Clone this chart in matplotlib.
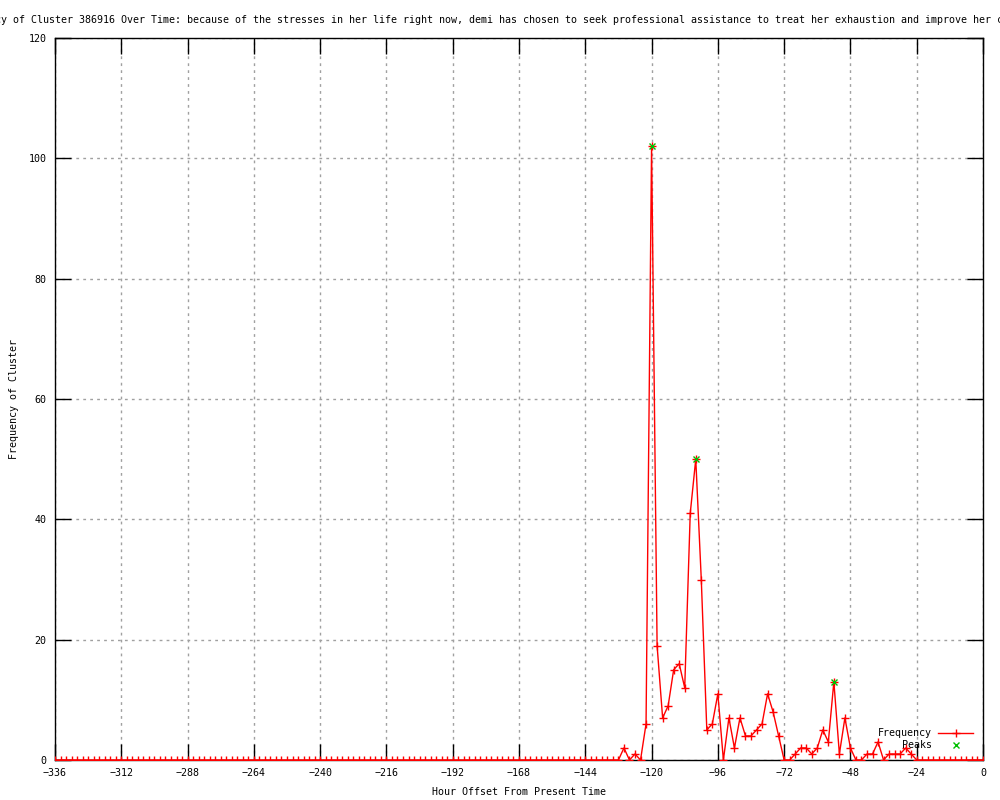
import matplotlib
matplotlib.use("Agg")
import matplotlib.pyplot as plt
import numpy as np

# ---- data ----
hours = list(range(-336, 1, 2))
frequency = [
    0, 0, 0, 0, 0, 0, 0, 0, 0, 0, 0, 0, 0, 0, 0, 0, 0, 0, 0, 0,
    0, 0, 0, 0, 0, 0, 0, 0, 0, 0, 0, 0, 0, 0, 0, 0, 0, 0, 0, 0,
    0, 0, 0, 0, 0, 0, 0, 0, 0, 0, 0, 0, 0, 0, 0, 0, 0, 0, 0, 0,
    0, 0, 0, 0, 0, 0, 0, 0, 0, 0, 0, 0, 0, 0, 0, 0, 0, 0, 0, 0,
    0, 0, 0, 0, 0, 0, 0, 0, 0, 0, 0, 0, 0, 0, 0, 0, 0, 0, 0, 0,
    0, 0, 0,
    # -130 ... -24
    2, 0, 1, 0, 6, 102, 19, 7, 9, 15, 16, 12, 41, 50, 30, 5, 6, 11, 0, 7,
    2, 7, 4, 4, 5, 6, 11, 8, 4, 0, 0, 1, 2, 2, 1, 2, 5, 3, 13, 1,
    7, 2, 0, 0, 1, 1, 3, 0, 1, 1, 1, 2, 1, 0,
    # -22 ... 0
    0, 0, 0, 0, 0, 0, 0, 0, 0, 0, 0, 0,
]
peak_hours = [-120, -104, -54]
peak_values = [102, 50, 13]

x_ticks = list(range(-336, 1, 24))
y_ticks = [0, 20, 40, 60, 80, 100, 120]

title = ("Frequency of Cluster 386916 Over Time: because of the stresses in her life "
         "right now, demi has chosen to seek professional assistance to treat her "
         "exhaustion and improve her condition")

mono = "DejaVu Sans Mono"
fs = 7.2

fig = plt.figure(figsize=(10, 8), dpi=100)
ax = fig.add_axes([0.055, 0.05, 0.928, 0.9025])

ax.plot(hours, frequency, color="#ff0000", lw=1.0, marker="+", ms=6,
        mew=1.0, label="Frequency", zorder=3)
ax.plot(peak_hours, peak_values, linestyle="none", color="#00c000",
        marker="x", ms=5, mew=1.0, label="Peaks", zorder=4)

ax.set_xlim(-336, 0)
ax.set_ylim(0, 120)
ax.set_xticks(x_ticks)
ax.set_yticks(y_ticks)
ax.set_xticklabels([str(v).replace("-", "\u2212") for v in x_ticks])
ax.set_yticklabels([str(v) for v in y_ticks])

ax.tick_params(direction="in", length=11.5, width=1, top=True, right=True,
               labelsize=fs, pad=6)
for lab in ax.get_xticklabels() + ax.get_yticklabels():
    lab.set_family(mono)

ax.grid(True, color="#a0a0a0", linestyle=(0, (2, 3)), linewidth=1.0)
for s in ax.spines.values():
    s.set_linewidth(1.0)
    s.set_color("black")

ax.set_xlabel("Hour Offset From Present Time", family=mono, fontsize=fs, labelpad=6)
ax.set_ylabel("Frequency of Cluster", family=mono, fontsize=fs, labelpad=7)

fig.text(-0.047, 0.975, title, family=mono, fontsize=fs, ha="left", va="center")

leg = ax.legend(loc="lower right", frameon=False, markerfirst=False,
                prop={"family": mono, "size": fs}, handlelength=3.5,
                handletextpad=0.6, labelspacing=0.2, borderaxespad=0.6,
                numpoints=1)

fig.savefig("out.png", dpi=100)
